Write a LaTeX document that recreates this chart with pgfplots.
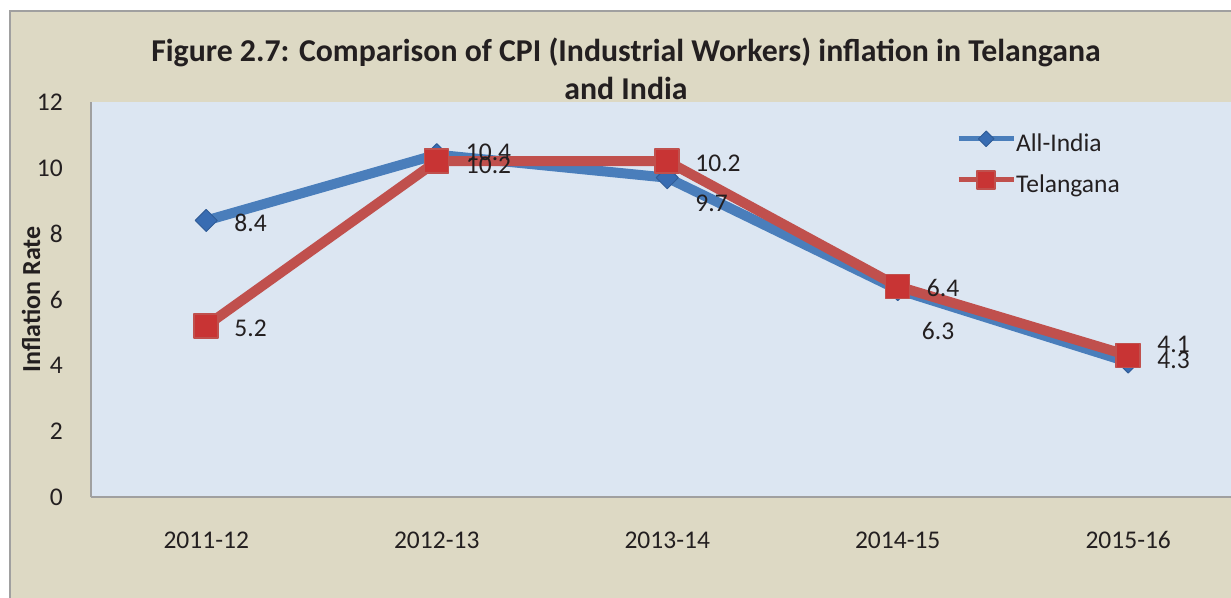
\documentclass[border=0pt]{standalone}
\usepackage{pgfplots}
\pgfplotsset{compat=1.18}
\usepackage{fontspec}
\setmainfont{Carlito}
\definecolor{framebg}{RGB}{221,217,196}
\definecolor{plotbg}{RGB}{220,230,242}
\definecolor{framegray}{RGB}{160,160,160}
\definecolor{aiblue}{RGB}{74,126,187}
\definecolor{aimark}{RGB}{56,108,178}
\definecolor{tlred}{RGB}{192,80,77}
\definecolor{tlmark}{RGB}{200,52,52}
\definecolor{txt}{RGB}{35,31,32}
\newcommand{\lbl}{\fontsize{25.5bp}{30bp}\selectfont}
\begin{document}
\begin{tikzpicture}[x=1bp,y=1bp]
\fill[white] (0,0) rectangle (1231,598);
\begin{scope}
\clip (0,0) rectangle (1231,598);
\filldraw[fill=framebg, draw=framegray, line width=2bp] (9.5,587) rectangle (1243,-20);
\begin{axis}[
  at={(91bp,101bp)}, anchor=south west,
  width=1152.5bp, height=395bp, scale only axis,
  xmin=-0.5, xmax=4.5, ymin=0, ymax=12,
  axis lines*=left,
  axis line style={draw=framegray, line width=1.5bp},
  axis background/.style={fill=plotbg},
  xtick={0,1,2,3,4},
  xticklabels={2011-12,2012-13,2013-14,2014-15,2015-16},
  ytick={0,2,4,6,8,10,12},
  major tick length=0pt,
  tick style={draw=none},
  /pgf/number format/assume math mode=true,
  xticklabel style={font=\lbl, text=txt, anchor=center, inner sep=0pt, yshift=-43bp},
  yticklabel style={font=\lbl, text=txt, anchor=east, inner sep=0pt, xshift=-28bp},
  ylabel={Inflation Rate},
  every axis y label/.style={at={(axis description cs:-0.0521,0.5)}, anchor=center, rotate=90, font=\fontsize{26bp}{30bp}\selectfont\bfseries, text=txt, inner sep=0pt},
  clip=false,
  legend cell align=left,
  legend style={draw=none, fill=none, inner sep=0pt, anchor=west,
    at={(axis description cs:0.7505,0.8418)},
    font=\lbl, text=txt,
    nodes={inner sep=0pt, text height=18bp, text depth=5bp},
    row sep=14bp, column sep=0bp},
  legend image code/.code={\draw[mark repeat=2,mark phase=2,#1] plot coordinates {(0bp,6.5bp) (27.5bp,6.5bp) (55bp,6.5bp)};},
]
\addplot[color=aiblue, line width=10bp, line join=round, mark=square*, mark size=7.8bp,
  mark options={rotate=45, fill=aimark, draw=aimark!85!black, line width=1bp, solid},
  legend image post style={line width=5bp, mark size=5.5bp}]
  coordinates {(0,8.4) (1,10.4) (2,9.7) (3,6.3) (4,4.1)};
\addlegendentry{All-India}
\addplot[color=tlred, line width=10bp, line join=round, mark=square*, mark size=12bp,
  mark options={fill=tlmark, draw=tlred, line width=1.5bp, solid},
  legend image post style={line width=5bp, mark size=9bp}]
  coordinates {(0,5.2) (1,10.2) (2,10.2) (3,6.4) (4,4.3)};
\addlegendentry{Telangana}
\begin{scope}[every node/.style={font=\lbl, text=txt, anchor=west, inner sep=0pt}]
\node[xshift=28bp, yshift=-2.5bp] at (axis cs:0,8.4) {8.4};
\node[xshift=29bp, yshift=2.7bp] at (axis cs:1,10.4) {10.4};
\node[xshift=28bp, yshift=-25.3bp] at (axis cs:2,9.7) {9.7};
\node[xshift=24bp, yshift=-41.4bp] at (axis cs:3,6.3) {6.3};
\node[xshift=29bp, yshift=18bp] at (axis cs:4,4.1) {4.1};
\node[xshift=28bp, yshift=-2.2bp] at (axis cs:0,5.2) {5.2};
\node[xshift=29bp, yshift=-3.8bp] at (axis cs:1,10.2) {10.2};
\node[xshift=28bp, yshift=-1.8bp] at (axis cs:2,10.2) {10.2};
\node[xshift=29bp, yshift=-1.7bp] at (axis cs:3,6.4) {6.4};
\node[xshift=29bp, yshift=-4.5bp] at (axis cs:4,4.3) {4.3};
\end{scope}
\end{axis}
\node[anchor=base, font=\fontsize{31.8bp}{36bp}\selectfont\bfseries, text=txt] at (626,536) {Figure 2.7: Comparison of CPI (Industrial Workers) inflation in Telangana};
\node[anchor=base, font=\fontsize{31.8bp}{36bp}\selectfont\bfseries, text=txt] at (626,498.5) {and India};
\end{scope}
\pgfresetboundingbox
\useasboundingbox (0,0) rectangle (1231,598);
\end{tikzpicture}
\end{document}
